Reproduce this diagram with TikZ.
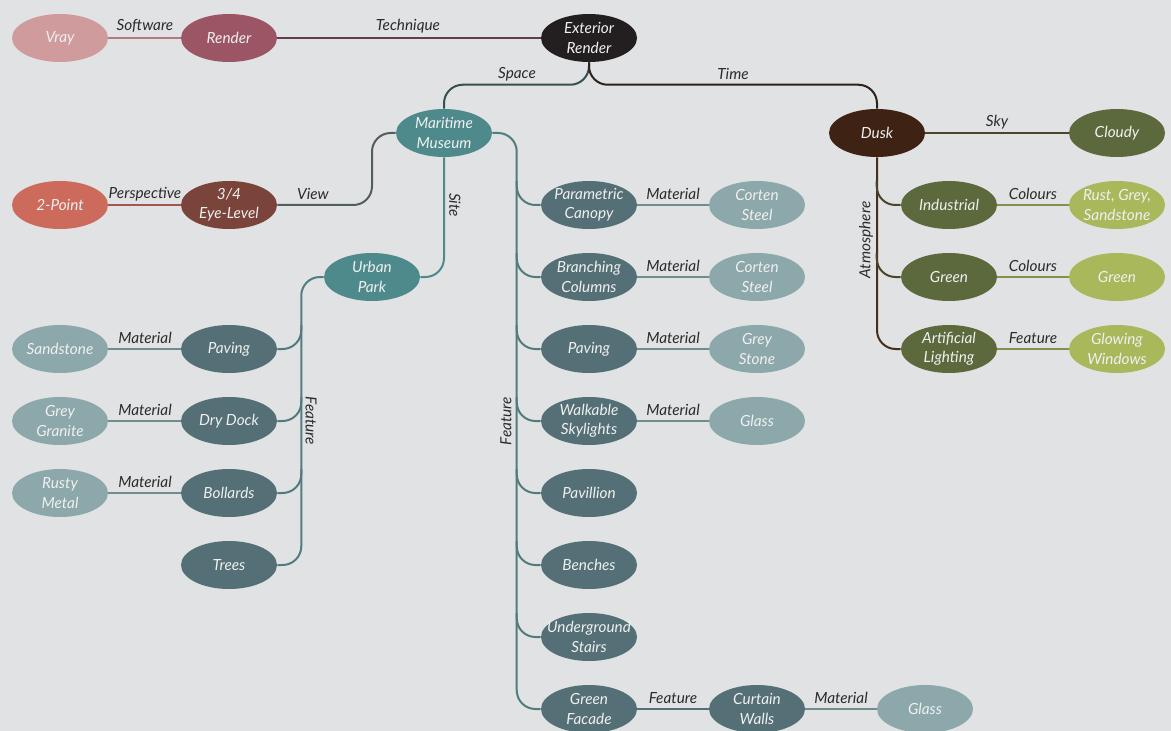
\documentclass[tikz,border=0pt]{standalone}
\usepackage{fontspec}
\setmainfont{Lato}
\usetikzlibrary{shapes.geometric}
\definecolor{bg}{HTML}{E1E2E4}
\definecolor{cVray}{HTML}{D09B9D}
\definecolor{cRender}{HTML}{9B5565}
\definecolor{cExt}{HTML}{231F20}
\definecolor{cTeal}{HTML}{4E8A8C}
\definecolor{cDusk}{HTML}{3E2214}
\definecolor{cOlive}{HTML}{5C693D}
\definecolor{cLOlive}{HTML}{A8B85A}
\definecolor{cPoint}{HTML}{CC6A5C}
\definecolor{cEye}{HTML}{7A443A}
\definecolor{cSlate}{HTML}{546F75}
\definecolor{cLSlate}{HTML}{8DA8AA}
\definecolor{lblc}{HTML}{2B2B2B}
\begin{document}
\begin{tikzpicture}[x=0.75pt,y=-0.75pt,
  font=\fontsize{11.5}{14.5}\selectfont\itshape,
  bub/.style={ellipse, minimum width=72pt, minimum height=36pt, inner xsep=-9pt, inner ysep=-3pt, align=center, text=white!94!black},
  lbl/.style={text=lblc, inner sep=0pt},
  con/.style={line width=1.5pt, rounded corners=14pt}]
\fill[bg] (0,0) rectangle (1171,731);
\useasboundingbox (0,0) rectangle (1171,731);

% nodes
\node[bub, fill=cVray] (vray) at (60,38) {Vray};
\node[bub, fill=cRender] (render) at (229,38) {Render};
\node[bub, fill=cExt] (ext) at (589,38) {Exterior\\Render};
\node[bub, fill=cTeal] (mm) at (444,133) {Maritime\\Museum};
\node[bub, fill=cDusk] (dusk) at (877,133) {Dusk};
\node[bub, fill=cOlive] (cloudy) at (1117,133) {Cloudy};
\node[bub, fill=cOlive] (ind) at (949,205) {Industrial};
\node[bub, fill=cLOlive] (rust) at (1117,205) {Rust, Grey,\\Sandstone};
\node[bub, fill=cOlive] (green) at (949,277) {Green};
\node[bub, fill=cLOlive] (greenc) at (1117,277) {Green};
\node[bub, fill=cOlive] (al) at (949,349) {Artificial\\Lighting};
\node[bub, fill=cLOlive] (glow) at (1117,349) {Glowing\\Windows};
\node[bub, fill=cPoint] (twop) at (60,205) {2-Point};
\node[bub, fill=cEye] (eye) at (229,205) {3/4\\Eye-Level};
\node[bub, fill=cTeal] (up) at (372,277) {Urban\\Park};
\node[bub, fill=cSlate] (upav) at (229,349) {Paving};
\node[bub, fill=cSlate] (dd) at (229,421) {Dry Dock};
\node[bub, fill=cSlate] (boll) at (229,493) {Bollards};
\node[bub, fill=cSlate] (trees) at (229,565) {Trees};
\node[bub, fill=cLSlate] (sand) at (60,349) {Sandstone};
\node[bub, fill=cLSlate] (gran) at (60,421) {Grey\\Granite};
\node[bub, fill=cLSlate] (rusty) at (60,493) {Rusty\\Metal};
\node[bub, fill=cSlate] (pc) at (589,205) {Parametric\\Canopy};
\node[bub, fill=cLSlate] (cs1) at (757,205) {Corten\\Steel};
\node[bub, fill=cSlate] (bc) at (589,277) {Branching\\Columns};
\node[bub, fill=cLSlate] (cs2) at (757,277) {Corten\\Steel};
\node[bub, fill=cSlate] (mpav) at (589,349) {Paving};
\node[bub, fill=cLSlate] (gs) at (757,349) {Grey\\Stone};
\node[bub, fill=cSlate] (ws) at (589,421) {Walkable\\Skylights};
\node[bub, fill=cLSlate] (glass1) at (757,421) {Glass};
\node[bub, fill=cSlate] (pavil) at (589,493) {Pavillion};
\node[bub, fill=cSlate] (bench) at (589,565) {Benches};
\node[bub, fill=cSlate] (ug) at (589,637) {Underground\\Stairs};
\node[bub, fill=cSlate] (gf) at (589,709) {Green\\Facade};
\node[bub, fill=cSlate] (cw) at (757,709) {Curtain\\Walls};
\node[bub, fill=cLSlate] (glass2) at (925,709) {Glass};

% connectors
\draw[con, draw=cVray!50!cRender] (vray.east) -- (render.west);
\draw[con, draw=cRender!55!cExt] (render.east) -- (ext.west);
\draw[con, draw=cExt!55!cTeal] (ext.south) |- ([yshift=18pt]mm.north) -- (mm.north);
\draw[con, draw=cExt!50!cDusk] (ext.south) |- ([yshift=18pt]dusk.north) -- (dusk.north);
\draw[con, draw=cDusk!50!cOlive] (dusk.east) -- (cloudy.west);
\draw[con, draw=cDusk!80!cOlive] (dusk.south) |- (al.west);
\draw[con, draw=cDusk!50!cOlive] ([xshift=-18pt,yshift=18pt]ind.west) |- (ind.west);
\draw[con, draw=cDusk!50!cOlive] ([xshift=-18pt,yshift=18pt]green.west) |- (green.west);
\draw[con, draw=cOlive!50!cLOlive] (ind.east) -- (rust.west);
\draw[con, draw=cOlive!50!cLOlive] (green.east) -- (greenc.west);
\draw[con, draw=cOlive!50!cLOlive] (al.east) -- (glow.west);
\draw[con, draw=cPoint!50!cEye] (twop.east) -- (eye.west);
\draw[con, draw=cEye!40!cTeal!85!black] (mm.west) -| (up.north |- eye.east) -- (eye.east);
\draw[con, draw=cTeal] (mm.south) |- (up.east);
\draw[con, draw=cTeal!50!cSlate] (up.west) -| ([xshift=18pt]trees.east) -- (trees.east);
\draw[con, draw=cTeal!40!cSlate] ([xshift=18pt,yshift=18pt]upav.east) |- (upav.east);
\draw[con, draw=cTeal!40!cSlate] ([xshift=18pt,yshift=18pt]dd.east) |- (dd.east);
\draw[con, draw=cTeal!40!cSlate] ([xshift=18pt,yshift=18pt]boll.east) |- (boll.east);
\draw[con, draw=cSlate!50!cLSlate] (upav.west) -- (sand.east);
\draw[con, draw=cSlate!50!cLSlate] (dd.west) -- (gran.east);
\draw[con, draw=cSlate!50!cLSlate] (boll.west) -- (rusty.east);
\draw[con, draw=cTeal!50!cSlate] (mm.east) -| ([xshift=-18pt]gf.west) -- (gf.west);
\foreach \n in {pc,bc,mpav,ws,pavil,bench,ug}
  \draw[con, draw=cTeal!40!cSlate] ([xshift=-18pt,yshift=18pt]\n.west) |- (\n.west);
\draw[con, draw=cSlate!50!cLSlate] (pc.east) -- (cs1.west);
\draw[con, draw=cSlate!50!cLSlate] (bc.east) -- (cs2.west);
\draw[con, draw=cSlate!50!cLSlate] (mpav.east) -- (gs.west);
\draw[con, draw=cSlate!50!cLSlate] (ws.east) -- (glass1.west);
\draw[con, draw=cSlate] (gf.east) -- (cw.west);
\draw[con, draw=cSlate!50!cLSlate] (cw.east) -- (glass2.west);

% labels
\node[lbl] (l1) at (145,26) {Software};
\node[lbl] (l2) at (408,26) {Technique};
\node[lbl] (l3) at (517,74) {Space};
\node[lbl] (l4) at (733,74) {Time};
\node[lbl] (l5) at (997,122) {Sky};
\node[lbl] (l6) at (1033,194) {Colours};
\node[lbl] (l7) at (1033,266) {Colours};
\node[lbl] (l8) at (1033,338) {Feature};
\node[lbl, rotate=90] (l9) at (866,240) {Atmosphere};
\node[lbl] (l10) at (145,194) {Perspective};
\node[lbl] (l11) at (313,194) {View};
\node[lbl, rotate=-90] (l12) at (455,205) {Site};
\node[lbl, rotate=-90] (l13) at (311,421) {Feature};
\node[lbl, rotate=90] (l14) at (506,421) {Feature};
\node[lbl] (l15) at (145,338) {Material};
\node[lbl] (l16) at (145,410) {Material};
\node[lbl] (l17) at (145,482) {Material};
\node[lbl] (l18) at (673,194) {Material};
\node[lbl] (l19) at (673,266) {Material};
\node[lbl] (l20) at (673,338) {Material};
\node[lbl] (l21) at (673,410) {Material};
\node[lbl] (l22) at (673,698) {Feature};
\node[lbl] (l23) at (841,698) {Material};
\end{tikzpicture}
\end{document}
